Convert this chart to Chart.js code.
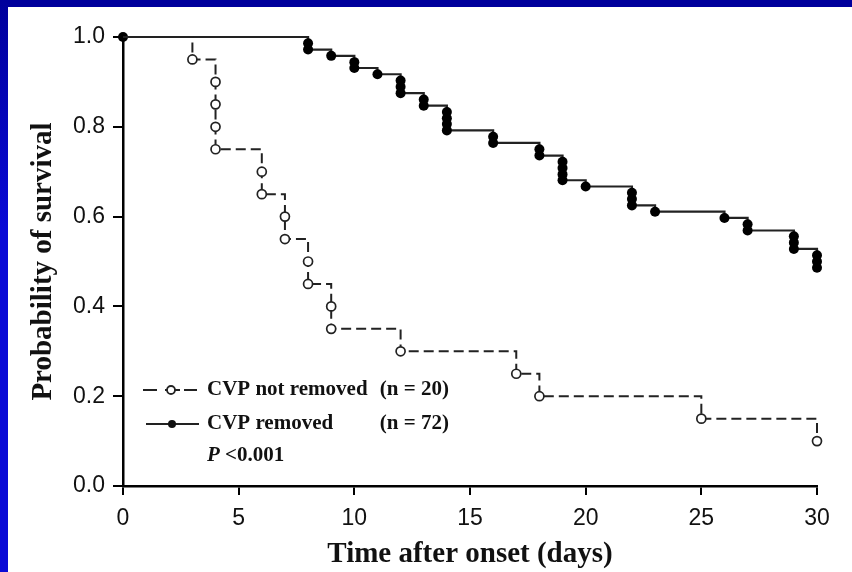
<!DOCTYPE html>
<html lang="en">
<head>
    <meta charset="UTF-8">
    <title>Survival after onset</title>
    <script src="https://cdn.jsdelivr.net/npm/chart.js@4.4.1/dist/chart.umd.min.js"></script>
    <style>
        html, body { margin: 0; padding: 0; background: #fff; }
        #wrap { position: relative; width: 852px; height: 572px; overflow: hidden; }
        #frameTop { position: absolute; left: 0; top: 0; width: 852px; height: 7px; background: #00009c; }
        #frameLeft { position: absolute; left: 0; top: 0; width: 8px; height: 572px; background: linear-gradient(#00009c, #0a0ad6 40%, #0a0ad6); }
    </style>
</head>
<body>
<div id="wrap">
    <canvas id="survChart" width="852" height="572"></canvas>
    <div id="frameTop"></div>
    <div id="frameLeft"></div>
</div>

<script>
// Kaplan-Meier steps: day of each event and survival right after it
const notRemovedDays = [0, 3, 4, 4, 4, 4, 6, 6, 7, 7, 8, 8, 9, 9, 12, 17, 18, 25, 30];
const notRemovedSurv = [1, 0.95, 0.90, 0.85, 0.80, 0.75, 0.70, 0.65, 0.60, 0.55, 0.50, 0.45, 0.40, 0.35, 0.30, 0.25, 0.20, 0.15, 0.10];

const removedDays = [0, 8, 8, 9, 10, 10, 11, 12, 12, 12, 13, 13, 14, 14, 14, 14, 16, 16, 18, 18,
    19, 19, 19, 19, 20, 22, 22, 22, 23, 26, 27, 27, 29, 29, 29, 30, 30, 30];
const removedSurv = [1, 0.986, 0.972, 0.958, 0.944, 0.931, 0.917, 0.903, 0.889, 0.875, 0.861, 0.847,
    0.833, 0.819, 0.806, 0.792, 0.778, 0.764, 0.750, 0.736, 0.722, 0.708, 0.694, 0.681, 0.667,
    0.653, 0.639, 0.625, 0.611, 0.597, 0.583, 0.569, 0.556, 0.542, 0.528, 0.514, 0.500, 0.486];

const xTicks = [0, 5, 10, 15, 20, 25, 30];
const yTicks = [0, 0.2, 0.4, 0.6, 0.8, 1.0];

const legendRows = [
    { label: 'CVP not removed', n: '(n = 20)' },
    { label: 'CVP removed', n: '(n = 72)' }
];
const pText = '<0.001';

const toPoints = (days, surv) => days.map((d, i) => ({ x: d, y: surv[i] }));

const serif = '"Liberation Serif", "Times New Roman", serif';

// legend box drawn inside the plot, lower left
const legendPlugin = {
    id: 'kmLegend',
    afterDraw(chart) {
        const ctx = chart.ctx;
        ctx.save();
        ctx.fillStyle = '#111';
        ctx.strokeStyle = '#222';
        ctx.textBaseline = 'middle';
        ctx.font = 'bold 21px ' + serif;

        // row 1: dashed, open circle
        let y = 390;
        ctx.lineWidth = 1.8;
        ctx.beginPath();
        ctx.moveTo(143, y); ctx.lineTo(157, y);
        ctx.moveTo(184, y); ctx.lineTo(197, y);
        ctx.moveTo(165, y); ctx.lineTo(180, y);
        ctx.stroke();
        ctx.beginPath();
        ctx.arc(171, y, 4, 0, Math.PI * 2);
        ctx.fillStyle = '#fff';
        ctx.fill();
        ctx.stroke();
        ctx.fillStyle = '#111';
        ctx.fillText(legendRows[0].label, 207, y);
        ctx.textAlign = 'right';
        ctx.fillText(legendRows[0].n, 449, y);

        // row 2: solid, filled circle
        y = 424;
        ctx.textAlign = 'left';
        ctx.beginPath();
        ctx.moveTo(146, y); ctx.lineTo(199, y);
        ctx.stroke();
        ctx.beginPath();
        ctx.arc(172, y, 4, 0, Math.PI * 2);
        ctx.fill();
        ctx.fillText(legendRows[1].label, 207, y);
        ctx.textAlign = 'right';
        ctx.fillText(legendRows[1].n, 449, y);

        // row 3: p value
        y = 456;
        ctx.textAlign = 'left';
        ctx.font = 'italic bold 21px ' + serif;
        ctx.fillText('P', 207, y);
        const pw = ctx.measureText('P ').width;
        ctx.font = 'bold 21px ' + serif;
        ctx.fillText(pText, 207 + pw, y);
        ctx.restore();
    }
};

const ctx = document.getElementById('survChart').getContext('2d');
new Chart(ctx, {
    type: 'line',
    data: {
        datasets: [
            {
                label: 'CVP not removed',
                data: toPoints(notRemovedDays, notRemovedSurv),
                stepped: true,
                borderColor: '#222',
                borderWidth: 2,
                borderDash: [10, 5],
                pointRadius: c => c.dataIndex === 0 ? 0 : 4.5,
                pointBackgroundColor: '#fff',
                pointBorderColor: '#222',
                pointBorderWidth: 1.7,
                clip: false
            },
            {
                label: 'CVP removed',
                data: toPoints(removedDays, removedSurv),
                stepped: true,
                borderColor: '#222',
                borderWidth: 2.2,
                pointRadius: 5,
                pointBackgroundColor: '#000',
                pointBorderColor: '#000',
                pointBorderWidth: 0,
                clip: false
            }
        ]
    },
    options: {
        responsive: false,
        animation: false,
        layout: { padding: { left: 0, right: 35, top: 37, bottom: 0 } },
        plugins: { legend: { display: false }, tooltip: { enabled: false } },
        scales: {
            x: {
                type: 'linear',
                min: 0,
                max: 30,
                afterFit: s => { s.height = 86; },
                afterBuildTicks: s => { s.ticks = xTicks.map(v => ({ value: v })); },
                border: { color: '#000', width: 2.5 },
                grid: { drawOnChartArea: false, color: '#000', lineWidth: 2, tickLength: 9 },
                ticks: {
                    color: '#111',
                    padding: 10,
                    font: { family: '"Liberation Sans", Arial, sans-serif', size: 23 }
                },
                title: {
                    display: true,
                    text: 'Time after onset (days)',
                    color: '#111',
                    padding: { top: 0, bottom: 0 },
                    font: { family: serif, size: 29, weight: 'bold', lineHeight: 1.2 }
                }
            },
            y: {
                min: 0,
                max: 1,
                afterFit: s => { s.width = 123; },
                afterBuildTicks: s => { s.ticks = yTicks.map(v => ({ value: v })); },
                border: { color: '#000', width: 2.5 },
                grid: { drawOnChartArea: false, color: '#000', lineWidth: 2, tickLength: 10 },
                ticks: {
                    color: '#111',
                    padding: 8,
                    callback: v => v.toFixed(1),
                    font: { family: '"Liberation Sans", Arial, sans-serif', size: 23 }
                },
                title: {
                    display: true,
                    text: 'Probability of survival',
                    color: '#111',
                    padding: { top: 26, bottom: 0 },
                    font: { family: serif, size: 29, weight: 'bold', lineHeight: 1.2 }
                }
            }
        }
    },
    plugins: [legendPlugin]
});
</script>
</body>
</html>
